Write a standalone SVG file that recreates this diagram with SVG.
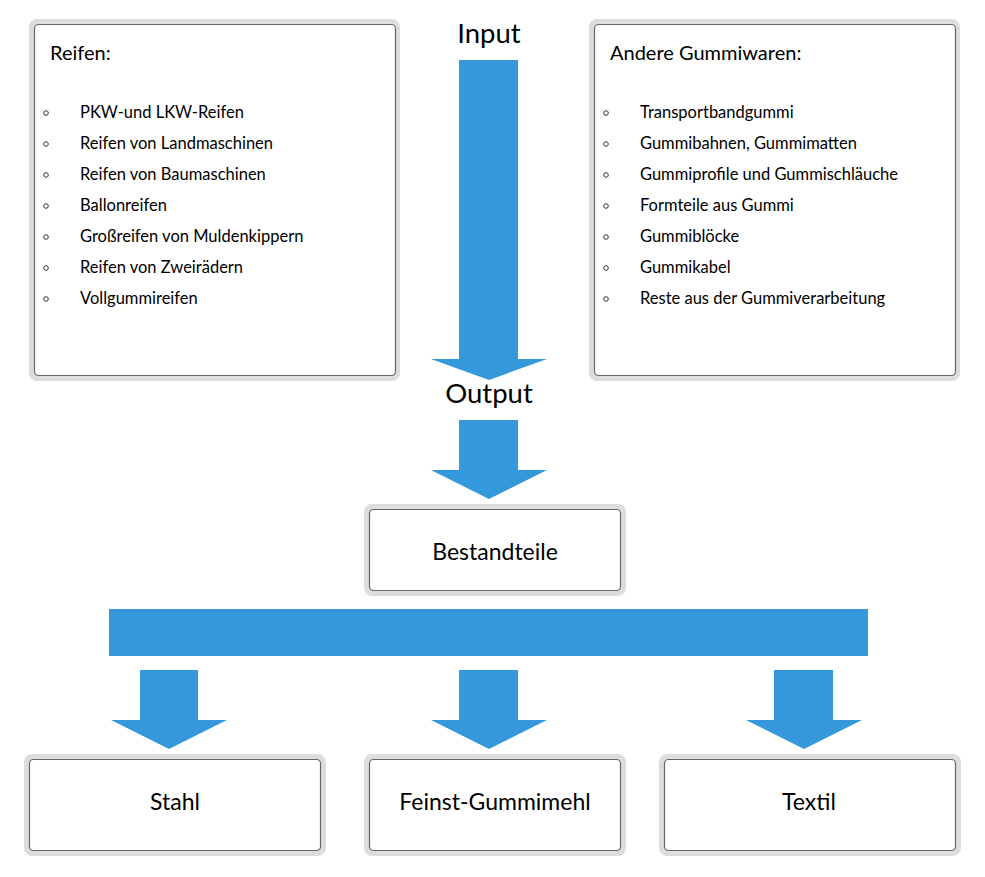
<svg xmlns="http://www.w3.org/2000/svg" width="985" height="877" viewBox="0 0 985 877">
<style>
.halo{fill:#dddddd}
.box{fill:#ffffff;stroke:#666666;stroke-width:1.2}
.arr{fill:#3598da}
text{font-family:Lato,"Liberation Sans",sans-serif;fill:#000}
.item{font-size:16.5px}
.title{font-size:20px}
.big{font-size:27.5px;text-anchor:middle}
.lbl{font-size:23px;text-anchor:middle}
.bul{fill:none;stroke:#333;stroke-width:1}
</style>
<defs>
<g id="b"><circle r="2.3" class="bul"/></g>
</defs>
<g id="reifen">
<rect class="halo" x="29" y="19" width="371" height="362" rx="8"/>
<rect class="box" x="34.5" y="24.5" width="361" height="351" rx="4"/>
<text class="title" x="50" y="60">Reifen:</text>
<use href="#b" x="46" y="113"/><text class="item" x="80" y="118">PKW-und LKW-Reifen</text>
<use href="#b" x="46" y="144"/><text class="item" x="80" y="149">Reifen von Landmaschinen</text>
<use href="#b" x="46" y="175"/><text class="item" x="80" y="180">Reifen von Baumaschinen</text>
<use href="#b" x="46" y="206"/><text class="item" x="80" y="211">Ballonreifen</text>
<use href="#b" x="46" y="237"/><text class="item" x="80" y="242">Großreifen von Muldenkippern</text>
<use href="#b" x="46" y="268"/><text class="item" x="80" y="273">Reifen von Zweirädern</text>
<use href="#b" x="46" y="299"/><text class="item" x="80" y="304">Vollgummireifen</text>
</g>
<g id="gummiwaren">
<rect class="halo" x="589" y="19" width="371" height="362" rx="8"/>
<rect class="box" x="594.5" y="24.5" width="361" height="351" rx="4"/>
<text class="title" x="610" y="60">Andere Gummiwaren:</text>
<use href="#b" x="606" y="113"/><text class="item" x="640" y="118">Transportbandgummi</text>
<use href="#b" x="606" y="144"/><text class="item" x="640" y="149">Gummibahnen, Gummimatten</text>
<use href="#b" x="606" y="175"/><text class="item" x="640" y="180">Gummiprofile und Gummischläuche</text>
<use href="#b" x="606" y="206"/><text class="item" x="640" y="211">Formteile aus Gummi</text>
<use href="#b" x="606" y="237"/><text class="item" x="640" y="242">Gummiblöcke</text>
<use href="#b" x="606" y="268"/><text class="item" x="640" y="273">Gummikabel</text>
<use href="#b" x="606" y="299"/><text class="item" x="640" y="304">Reste aus der Gummiverarbeitung</text>
</g>
<g id="input-label"><text class="big" x="489" y="43">Input</text></g>
<g id="output-label"><text class="big" x="489" y="403">Output</text></g>
<g id="bestandteile">
<rect class="halo" x="364" y="504" width="262" height="92" rx="8"/>
<rect class="box" x="369.5" y="509.5" width="251" height="81" rx="4"/>
<text class="lbl" x="495" y="560">Bestandteile</text>
</g>
<g id="stahl">
<rect class="halo" x="24" y="754" width="302" height="102" rx="8"/>
<rect class="box" x="29.5" y="759.5" width="291" height="91" rx="4"/>
<text class="lbl" x="175" y="810">Stahl</text>
</g>
<g id="feinst">
<rect class="halo" x="364" y="754" width="262" height="102" rx="8"/>
<rect class="box" x="369.5" y="759.5" width="251" height="91" rx="4"/>
<text class="lbl" x="495" y="810">Feinst-Gummimehl</text>
</g>
<g id="textil">
<rect class="halo" x="659" y="754" width="302" height="102" rx="8"/>
<rect class="box" x="664.5" y="759.5" width="291" height="91" rx="4"/>
<text class="lbl" x="809" y="810">Textil</text>
</g>
<g id="connectors">
<polygon class="arr" points="459,60 518,60 518,359 547,359 489,380 431,359 459,359"/>
<polygon class="arr" points="459,420 518,420 518,470 547,470 489,499 431,470 459,470"/>
<rect class="arr" x="109" y="609" width="759" height="47"/>
<polygon class="arr" points="140,670 198,670 198,720 227,720 169,749 111,720 140,720"/>
<polygon class="arr" points="459,670 518,670 518,720 547,720 489,749 431,720 459,720"/>
<polygon class="arr" points="774,670 833,670 833,720 862,720 804,749 746,720 774,720"/>
</g>
</svg>
